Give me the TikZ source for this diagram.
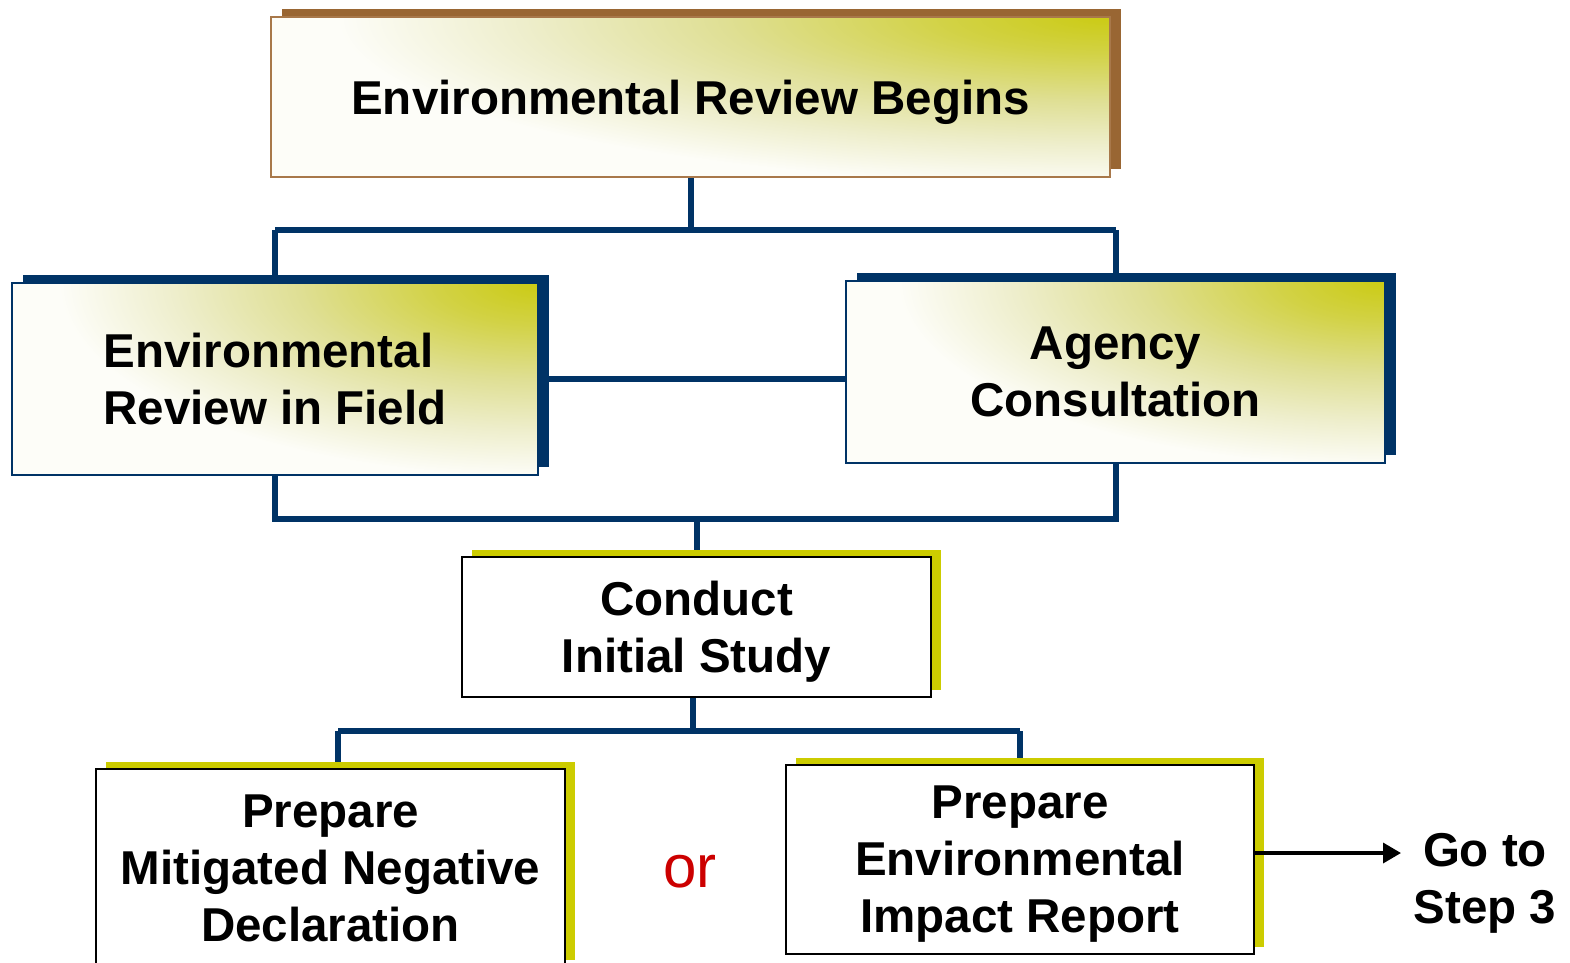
\documentclass[tikz,border=0pt]{standalone}
\usepackage{fontspec}
\setmainfont{Liberation Sans}
\usetikzlibrary{shadows,arrows.meta,backgrounds,calc}
\definecolor{navy}{HTML}{003366}
\definecolor{brownsh}{HTML}{996633}
\definecolor{brownline}{HTML}{A8784A}
\definecolor{yel}{HTML}{CCCC00}
\definecolor{orred}{HTML}{CC0000}
\definecolor{gA}{HTML}{CBCB14}
\definecolor{gB}{HTML}{D2D245}
\definecolor{gC}{HTML}{DFDF94}
\definecolor{gD}{HTML}{EEEECC}
\definecolor{gE}{HTML}{FDFDF8}
\pgfdeclareradialshading{cornerglow}{\pgfpoint{0bp}{0bp}}{color(0bp)=(gA); color(4.5bp)=(gB); color(10.5bp)=(gC); color(16bp)=(gD); color(21bp)=(gE); color(50bp)=(gE)}
\begin{document}
\begin{tikzpicture}[x=1pt,y=-1pt,
  box/.style={rectangle, inner sep=0pt, outer sep=0pt, align=center, text depth=0pt,
    font=\bfseries\fontsize{47.5}{57}\selectfont},
  glowbox/.style 2 args={box, fill=gE,
    path picture={\shade[shading=cornerglow] (path picture bounding box.north east) ellipse [x radius=#1pt, y radius=#2pt];}},
  navyshadow/.style={drop shadow={shadow xshift=11pt, shadow yshift=8pt, fill=navy, opacity=1}},
  brownshadow/.style={drop shadow={shadow xshift=11pt, shadow yshift=8pt, fill=brownsh, opacity=1}},
  yelshadow/.style={drop shadow={shadow xshift=10pt, shadow yshift=7.5pt, fill=yel, opacity=1}},
  plainbox/.style={box, fill=white, draw=black, line width=2.2pt, yelshadow},
  link/.style={draw=navy, line width=6pt},
  plaintext/.style={font=\bfseries\fontsize{47.5}{57}\selectfont, align=center, inner sep=0pt}
]
\useasboundingbox (0,0) rectangle (1570,962);

\node[glowbox={920}{200}, draw=brownline, line width=2pt, brownshadow,
  minimum width=839pt, minimum height=160pt] (top) at (690.5,97) {Environmental Review Begins};

\node[glowbox={570}{230}, draw=navy, line width=1.6pt, navyshadow, align=left,
  minimum width=526pt, minimum height=192pt] (left) at (275,379) {Environmental\\Review in Field};

\node[glowbox={580}{220}, draw=navy, line width=1.6pt, navyshadow,
  minimum width=539pt, minimum height=182pt] (right) at (1115.5,372) {Agency\\Consultation};

\node[plainbox, minimum width=469pt, minimum height=140pt] (conduct) at (696.5,627) {Conduct\\Initial Study};

\node[plainbox, minimum width=469pt, minimum height=198pt] (mnd) at (330.5,868) {Prepare\\Mitigated Negative\\Declaration};

\node[plainbox, minimum width=468pt, minimum height=189pt] (eir) at (1020,859.5) {Prepare\\Environmental\\Impact Report};

\node[text=orred, inner sep=0pt, font=\fontsize{60}{60}\selectfont] (or) at (690,872) {or};

\node[plaintext] (step) at (1485,883) {Go to\\Step 3};

\begin{scope}[on background layer]
  \coordinate (j1) at ($(top.south)+(0,53)$);
  \draw[link] (top.south) -- (j1);
  \draw[link] (left.north |- j1) -- (right.north |- j1);
  \draw[link] (left.north |- j1) -- (left.north);
  \draw[link] (right.north |- j1) -- (right.north);
  \draw[link] (left.east) -- (left.east -| right.west);
  \coordinate (j2) at ($(conduct.north)+(0,-38)$);
  \draw[link] (left.south) -- (left.south |- j2) -- (right.south |- j2) -- (right.south);
  \draw[link] (j2) -- (conduct.north);
  \coordinate (j3) at ($(conduct.south)+(-3.5,34)$);
  \draw[link] ([xshift=-3.5pt]conduct.south) -- (j3);
  \draw[link] ([xshift=7.5pt]mnd.north |- j3) -- (eir.north |- j3);
  \draw[link] ([xshift=7.5pt]mnd.north |- j3) -- ([xshift=7.5pt]mnd.north);
  \draw[link] (eir.north |- j3) -- (eir.north);
\end{scope}

\coordinate (gotip) at (1401,853);
\draw[line width=3.5pt, -{Triangle[length=18pt,width=20pt]}] (gotip -| eir.east) -- (gotip);
\end{tikzpicture}
\end{document}
